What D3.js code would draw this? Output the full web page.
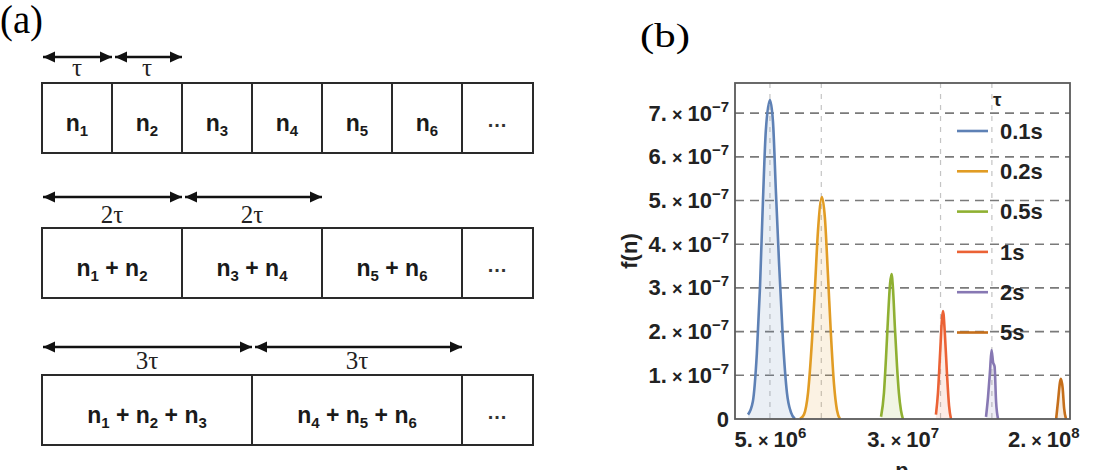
<!DOCTYPE html>
<html>
<head>
<meta charset="utf-8">
<script src="https://cdnjs.cloudflare.com/ajax/libs/d3/7.8.5/d3.min.js"></script>
<style>
  body { margin: 0; background: #fff; }
  svg { display: block; }
</style>
</head>
<body>
<script>
var width = 1094,
    height = 470;

// panel (a): which intervals are summed in each box
var row1Groups = [[1], [2], [3], [4], [5], [6]];
var row2Groups = [[1, 2], [3, 4], [5, 6]];
var row3Groups = [[1, 2, 3], [4, 5, 6]];
var row1Labels = ["τ", "τ"];
var row2Labels = ["2τ", "2τ"];
var row3Labels = ["3τ", "3τ"];

// panel (b): f(n) for each counting time τ
var tauLabels = ["0.1s", "0.2s", "0.5s", "1s", "2s", "5s"];

var n01 = [3.72e6, 3.97e6, 4.19e6, 4.37e6, 4.55e6, 4.73e6, 5.0e6, 5.21e6, 5.42e6, 5.65e6, 5.96e6, 6.29e6, 6.64e6, 7.01e6];
var f01 = [0.1e-7, 0.4e-7, 1.5e-7, 3.0e-7, 5.0e-7, 6.6e-7, 7.3e-7, 6.8e-7, 5.2e-7, 3.6e-7, 1.8e-7, 0.6e-7, 0.15e-7, 0];

var n02 = [7.5e6, 7.91e6, 8.36e6, 8.82e6, 9.18e6, 9.56e6, 1.009e7, 1.05e7, 1.094e7, 1.14e7, 1.187e7, 1.236e7, 1.287e7];
var f02 = [0, 0.1e-7, 0.6e-7, 1.8e-7, 3.0e-7, 4.3e-7, 5.08e-7, 4.6e-7, 3.3e-7, 1.9e-7, 0.8e-7, 0.2e-7, 0];

var n05 = [2.24e7, 2.33e7, 2.395e7, 2.46e7, 2.53e7, 2.58e7, 2.63e7, 2.70e7, 2.78e7, 2.85e7, 2.93e7, 3.01e7];
var f05 = [0.05e-7, 0.6e-7, 1.4e-7, 2.3e-7, 3.1e-7, 3.32e-7, 3.0e-7, 2.1e-7, 1.2e-7, 0.6e-7, 0.2e-7, 0];

var n1 = [4.70e7, 4.83e7, 4.97e7, 5.10e7, 5.17e7, 5.31e7, 5.46e7, 5.61e7, 5.76e7];
var f1 = [0.1e-7, 0.6e-7, 1.5e-7, 2.3e-7, 2.47e-7, 1.9e-7, 1.0e-7, 0.3e-7, 0];

var n2 = [9.24e7, 9.49e7, 9.75e7, 9.95e7, 1.016e8, 1.037e8, 1.058e8, 1.087e8];
var f2 = [0.05e-7, 0.5e-7, 1.1e-7, 1.58e-7, 1.3e-7, 1.2e-7, 0.4e-7, 0];

var n5 = [2.38e8, 2.44e8, 2.51e8, 2.54e8, 2.60e8, 2.65e8, 2.72e8];
var f5 = [0, 0.4e-7, 0.85e-7, 0.92e-7, 0.7e-7, 0.25e-7, 0];

var yTicks = [0, 1e-7, 2e-7, 3e-7, 4e-7, 5e-7, 6e-7, 7e-7];
var xTicks = [5e6, 3e7, 2e8];
var xGrid = [5e6, 1e7, 5e7, 1e8];

var colors = ["#5e81b5", "#e19c24", "#8fb032", "#eb6235", "#8778b3", "#c56e1a"];

var svg = d3.select("body")
            .append("svg")
            .attr("width", width)
            .attr("height", height);

var serif = "'Liberation Serif', 'Times New Roman', serif",
    sans = "'Liberation Sans', Arial, sans-serif";

// arrow heads
svg.append("defs")
   .append("marker")
   .attr("id", "head")
   .attr("viewBox", "0 0 12 12")
   .attr("refX", 12)
   .attr("refY", 6)
   .attr("markerWidth", 12)
   .attr("markerHeight", 12)
   .attr("markerUnits", "userSpaceOnUse")
   .attr("orient", "auto-start-reverse")
   .append("path")
   .attr("d", "M0,0.5 L12,6 L0,11.5 Z")
   .attr("fill", "#111");

//---------------- panel (a) ----------------
svg.append("text")
   .attr("x", 0)
   .attr("y", 33)
   .attr("font-family", serif)
   .attr("font-size", 40)
   .attr("textLength", 43)
   .attr("lengthAdjust", "spacingAndGlyphs")
   .text("(a)");

var slot = d3.scaleLinear().domain([0, 6]).range([42, 462]);
var rowEnd = 533;

function drawRow(groups, labels, boxTop, arrowY, labelY) {
  var g = svg.append("g");
  var h = 70;

  // boxes
  g.selectAll("rect.cell")
   .data(groups)
   .enter()
   .append("rect")
   .attr("class", "cell")
   .attr("x", function(d) { return slot(d[0] - 1); })
   .attr("y", boxTop)
   .attr("width", function(d) { return slot(d[d.length - 1]) - slot(d[0] - 1); })
   .attr("height", h)
   .attr("fill", "none")
   .attr("stroke", "#2a2a2a")
   .attr("stroke-width", 2);

  g.append("rect")
   .attr("x", slot(6))
   .attr("y", boxTop)
   .attr("width", rowEnd - slot(6))
   .attr("height", h)
   .attr("fill", "none")
   .attr("stroke", "#2a2a2a")
   .attr("stroke-width", 2);

  // n_i + n_j labels
  g.selectAll("text.cell")
   .data(groups)
   .enter()
   .append("text")
   .attr("class", "cell")
   .attr("x", function(d) { return (slot(d[0] - 1) + slot(d[d.length - 1])) / 2; })
   .attr("y", boxTop + 48)
   .attr("text-anchor", "middle")
   .attr("font-family", sans)
   .attr("font-weight", "bold")
   .attr("font-size", 23)
   .attr("fill", "#1a1a1a")
   .each(function(d) {
     var t = d3.select(this);
     d.forEach(function(k, i) {
       if (i > 0) t.append("tspan").attr("dy", -5).text(" + ");
       t.append("tspan").text("n");
       t.append("tspan").attr("font-size", 15).attr("dy", 5).text(k);
     });
   });

  g.append("text")
   .attr("x", (slot(6) + rowEnd) / 2)
   .attr("y", boxTop + 44)
   .attr("text-anchor", "middle")
   .attr("font-family", sans)
   .attr("font-weight", "bold")
   .attr("font-size", 20)
   .attr("letter-spacing", 1)
   .attr("fill", "#333")
   .text("...");

  // arrows over the first groups
  var arrowed = groups.slice(0, labels.length);
  g.selectAll("line.arrow")
   .data(arrowed)
   .enter()
   .append("line")
   .attr("class", "arrow")
   .attr("x1", function(d, i) { return slot(d[0] - 1) + (i ? 3 : 1); })
   .attr("x2", function(d) { return slot(d[d.length - 1]); })
   .attr("y1", arrowY)
   .attr("y2", arrowY)
   .attr("stroke", "#111")
   .attr("stroke-width", 2.5)
   .attr("marker-start", "url(#head)")
   .attr("marker-end", "url(#head)");

  g.selectAll("text.tau")
   .data(arrowed)
   .enter()
   .append("text")
   .attr("class", "tau")
   .attr("x", function(d) { return (slot(d[0] - 1) + slot(d[d.length - 1])) / 2; })
   .attr("y", labelY)
   .attr("text-anchor", "middle")
   .attr("font-family", serif)
   .attr("font-size", 25)
   .attr("fill", "#222")
   .text(function(d, i) { return labels[i]; });
}

drawRow(row1Groups, row1Labels, 83, 57, 76);
drawRow(row2Groups, row2Labels, 228, 197, 223);
drawRow(row3Groups, row3Labels, 375, 347, 369);

//---------------- panel (b) ----------------
svg.append("text")
   .attr("x", 640)
   .attr("y", 47)
   .attr("font-family", serif)
   .attr("font-size", 33)
   .attr("textLength", 50)
   .attr("lengthAdjust", "spacingAndGlyphs")
   .text("(b)");

var plotLeft = 735, plotRight = 1070, plotTop = 83, plotBottom = 419;

var xScale = d3.scaleLog()
               .domain([3.12e6, 2.87e8])
               .range([plotLeft, plotRight]);

var yScale = d3.scaleLinear()
               .domain([0, 7.69e-7])
               .range([plotBottom, plotTop]);

// grid
svg.append("g")
   .selectAll("line")
   .data(xGrid)
   .enter()
   .append("line")
   .attr("x1", function(d) { return xScale(d); })
   .attr("x2", function(d) { return xScale(d); })
   .attr("y1", plotTop)
   .attr("y2", plotBottom)
   .attr("stroke", "#c4c4c4")
   .attr("stroke-width", 1.2)
   .attr("stroke-dasharray", "5,6");

svg.append("g")
   .selectAll("line")
   .data(yTicks.slice(1))
   .enter()
   .append("line")
   .attr("x1", plotLeft)
   .attr("x2", plotRight)
   .attr("y1", function(d) { return yScale(d); })
   .attr("y2", function(d) { return yScale(d); })
   .attr("stroke", "#7a7a7a")
   .attr("stroke-width", 1.6)
   .attr("stroke-dasharray", "9,6");

var series = [[n01, f01], [n02, f02], [n05, f05], [n1, f1], [n2, f2], [n5, f5]].map(function(s) {
  return d3.zip(s[0], s[1]);
});

var area = d3.area()
             .x(function(d) { return xScale(d[0]); })
             .y0(yScale(0))
             .y1(function(d) { return yScale(d[1]); })
             .curve(d3.curveMonotoneX);

var line = d3.line()
             .x(function(d) { return xScale(d[0]); })
             .y(function(d) { return yScale(d[1]); })
             .curve(d3.curveMonotoneX);

svg.append("g")
   .selectAll("path")
   .data(series)
   .enter()
   .append("path")
   .attr("d", area)
   .attr("fill", function(d, i) { return colors[i]; })
   .attr("fill-opacity", 0.13);

svg.append("g")
   .selectAll("path")
   .data(series)
   .enter()
   .append("path")
   .attr("d", line)
   .attr("fill", "none")
   .attr("stroke", function(d, i) { return colors[i]; })
   .attr("stroke-width", 2.6)
   .attr("stroke-linejoin", "round");

// frame
svg.append("rect")
   .attr("x", plotLeft)
   .attr("y", plotTop)
   .attr("width", plotRight - plotLeft)
   .attr("height", plotBottom - plotTop)
   .attr("fill", "none")
   .attr("stroke", "#5a5a5a")
   .attr("stroke-width", 1.8);

// tick labels like "7.×10^-7"
function sciText(t, v) {
  t.text(null);
  if (v === 0) { t.text("0"); return; }
  var e = Math.floor(Math.log10(v) + 1e-9);
  var m = Math.round(v / Math.pow(10, e));
  t.append("tspan").text(m + ".");
  t.append("tspan").attr("font-size", 18).text(" × ");
  t.append("tspan").text("10");
  t.append("tspan")
   .attr("font-size", 15)
   .attr("dy", "-0.6em")
   .text(e < 0 ? "\u2212" + (-e) : e);
}

var xAxis = d3.axisBottom(xScale).tickValues(xTicks).tickSize(0).tickPadding(12);
var yAxis = d3.axisLeft(yScale).tickValues(yTicks).tickSize(0).tickPadding(6);

var gx = svg.append("g")
   .attr("transform", "translate(0," + plotBottom + ")")
   .call(xAxis);

var gy = svg.append("g")
   .attr("transform", "translate(" + plotLeft + ",0)")
   .call(yAxis);

[gx, gy].forEach(function(g) {
  g.select(".domain").remove();
  g.attr("font-family", sans)
   .attr("font-size", 22)
   .attr("font-weight", "bold")
   .style("color", "#222");
  g.selectAll(".tick text").each(function(d) { sciText(d3.select(this), d); });
});

// axis titles
svg.append("text")
   .attr("transform", "translate(637,251) rotate(-90)")
   .attr("text-anchor", "middle")
   .attr("font-family", sans)
   .attr("font-weight", "bold")
   .attr("font-size", 22)
   .attr("fill", "#222")
   .text("f(n)");

svg.append("text")
   .attr("x", 902)
   .attr("y", 478)
   .attr("text-anchor", "middle")
   .attr("font-family", sans)
   .attr("font-weight", "bold")
   .attr("font-size", 22)
   .attr("fill", "#222")
   .text("n");

// legend
var legend = svg.append("g");

legend.append("text")
   .attr("x", 993)
   .attr("y", 106)
   .attr("font-family", sans)
   .attr("font-weight", "bold")
   .attr("font-size", 19)
   .attr("fill", "#222")
   .text("τ");

var items = legend.selectAll("g.item")
   .data(tauLabels)
   .enter()
   .append("g")
   .attr("class", "item")
   .attr("transform", function(d, i) { return "translate(0," + (131 + i * 40.3) + ")"; });

items.append("line")
   .attr("x1", 957)
   .attr("x2", 988)
   .attr("stroke", function(d, i) { return colors[i]; })
   .attr("stroke-width", 2.6);

items.append("text")
   .attr("x", 1000)
   .attr("dy", "0.35em")
   .attr("font-family", sans)
   .attr("font-weight", "bold")
   .attr("font-size", 22)
   .attr("fill", "#222")
   .text(function(d) { return d; });
</script>
</body>
</html>
